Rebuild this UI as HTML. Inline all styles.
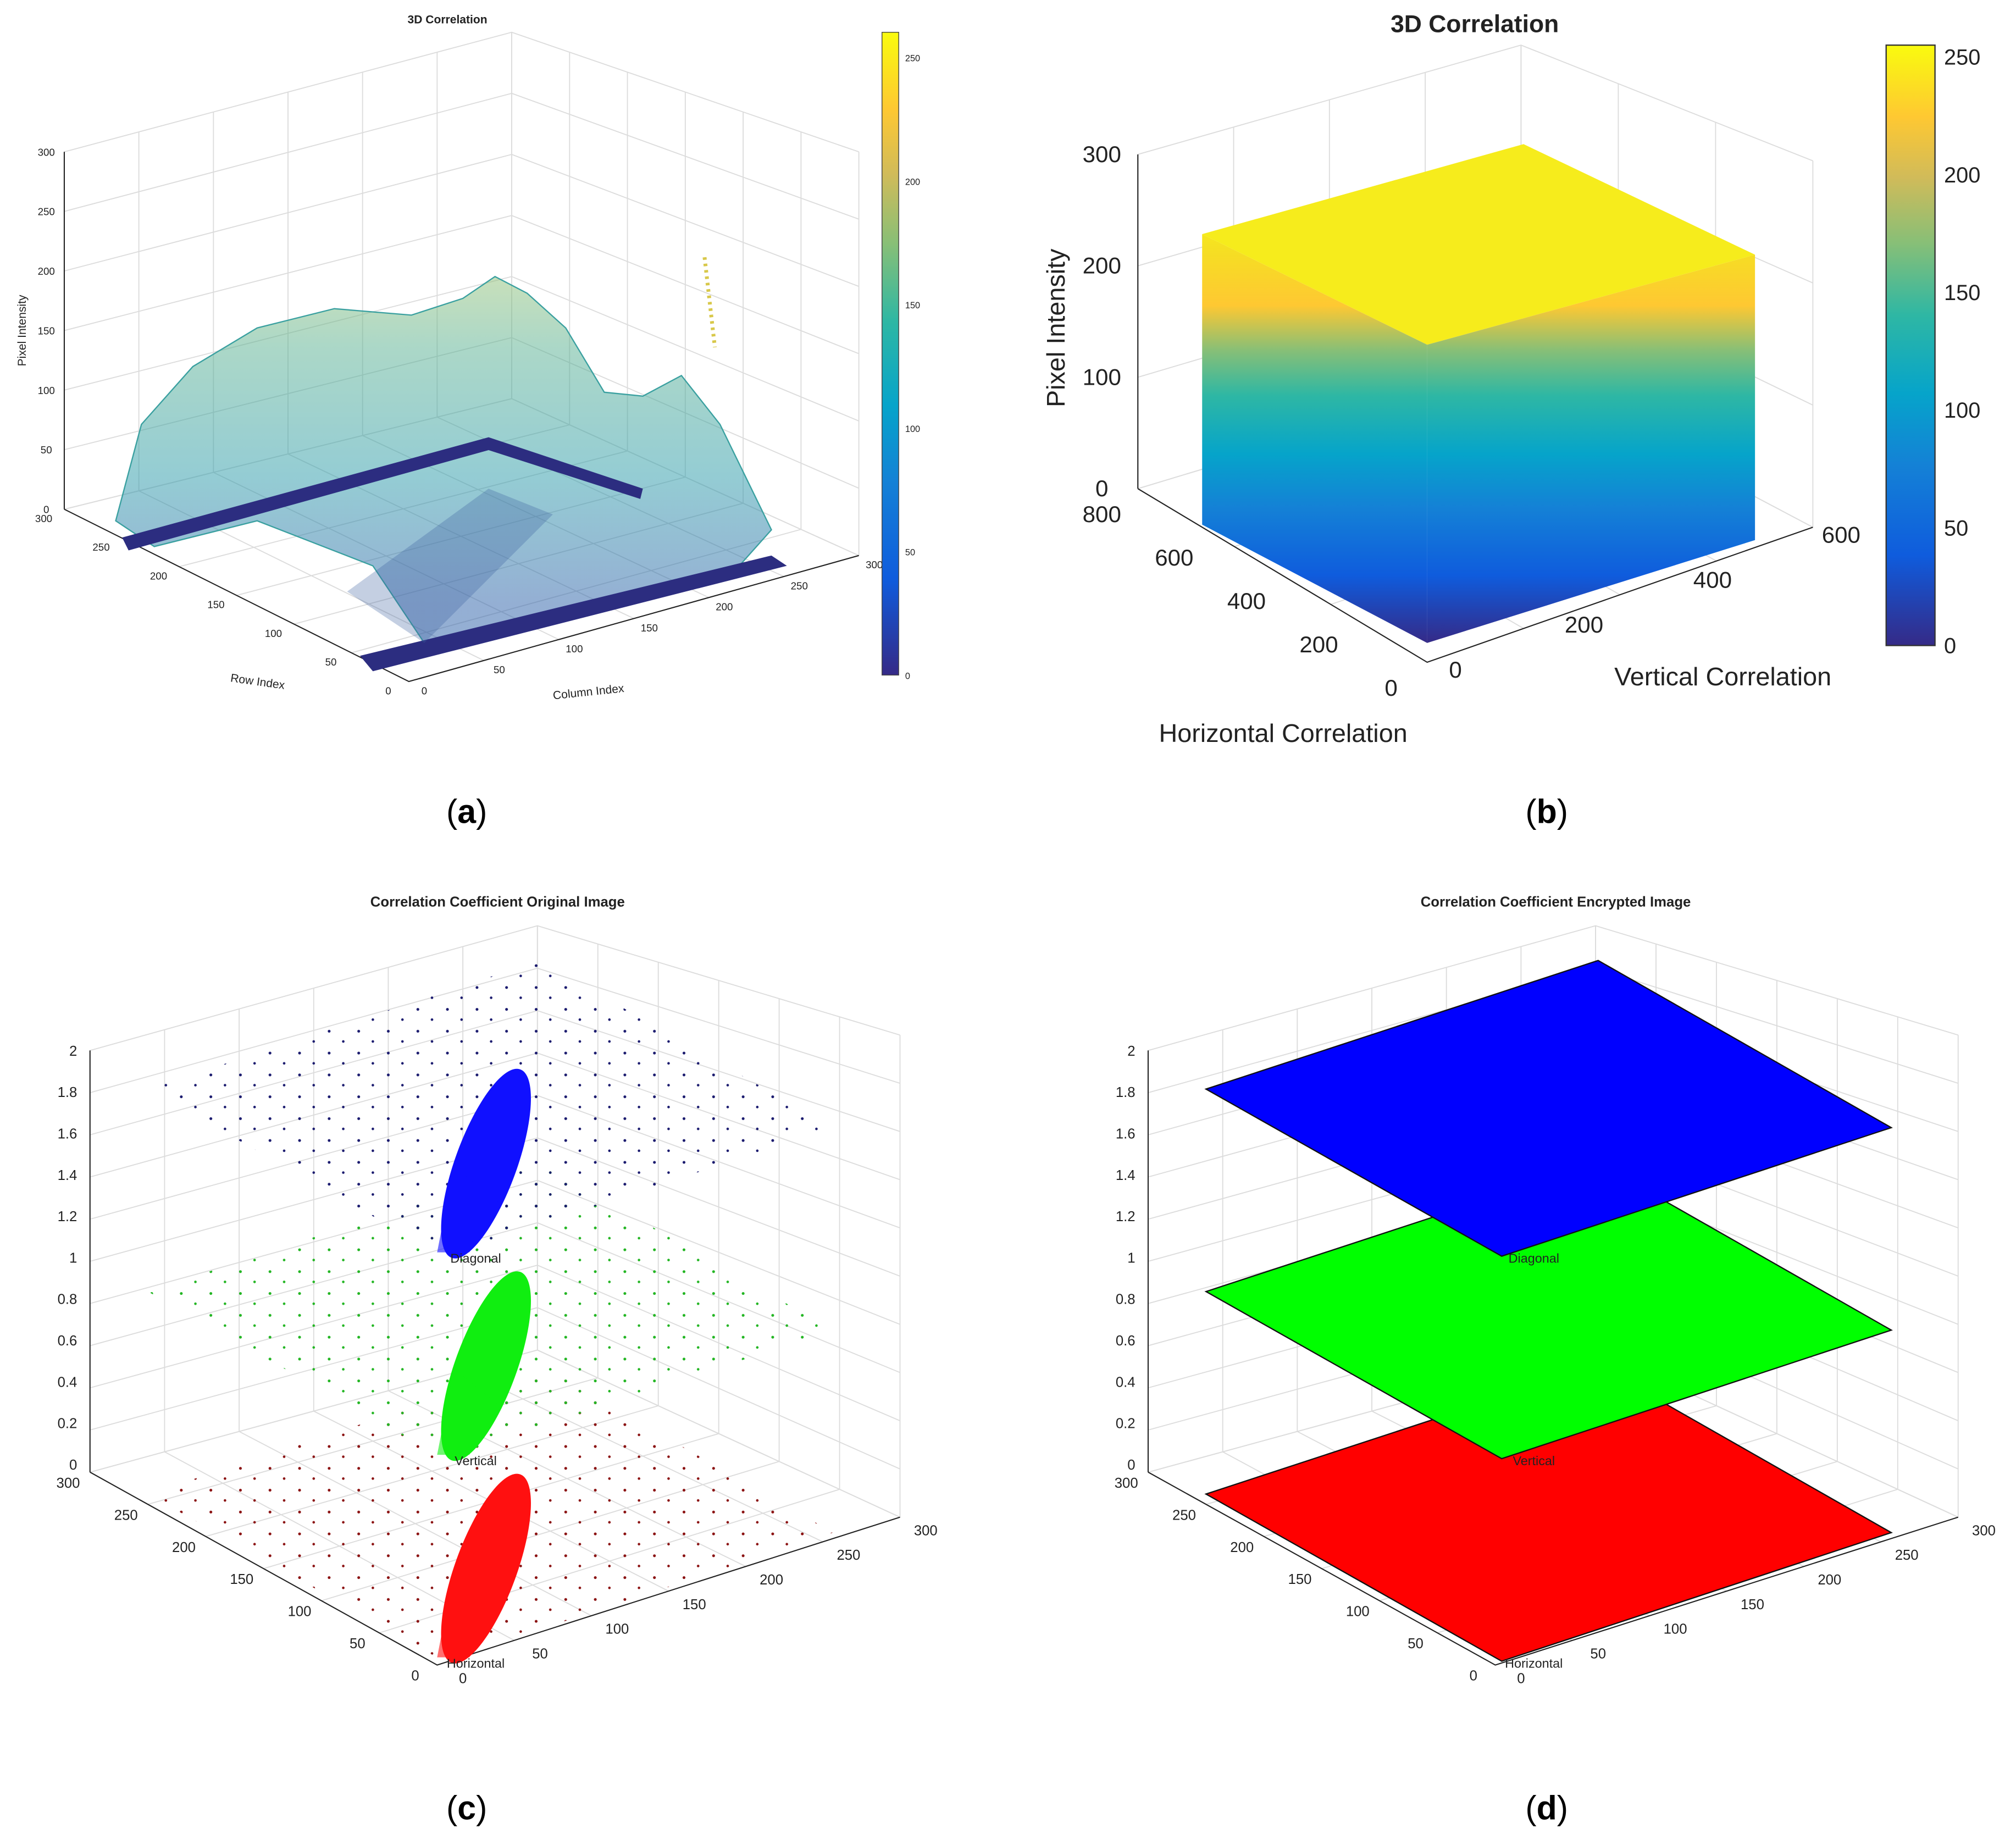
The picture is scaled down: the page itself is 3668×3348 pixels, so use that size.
<!DOCTYPE html>
<html><head><meta charset="utf-8"><style>
html,body{margin:0;padding:0;background:#fff}
svg{display:block}
text{font-family:"Liberation Sans",sans-serif}
</style></head><body>
<svg id="fig" xmlns="http://www.w3.org/2000/svg" width="3668" height="3348" viewBox="0 0 1568 1431">
<defs>
<linearGradient id="parula" x1="0" y1="1" x2="0" y2="0">
<stop offset="0" stop-color="#352a87"/><stop offset="0.15" stop-color="#0f5cdd"/><stop offset="0.3" stop-color="#1481d6"/>
<stop offset="0.42" stop-color="#06a4ca"/><stop offset="0.55" stop-color="#2eb7a4"/><stop offset="0.67" stop-color="#87bf77"/>
<stop offset="0.78" stop-color="#d1bb59"/><stop offset="0.88" stop-color="#fec832"/><stop offset="1" stop-color="#f9fb0e"/>
</linearGradient>
<linearGradient id="cube" gradientUnits="userSpaceOnUse" x1="0" y1="500" x2="0" y2="150">
<stop offset="0" stop-color="#352a87"/><stop offset="0.15" stop-color="#0f5cdd"/><stop offset="0.3" stop-color="#1481d6"/>
<stop offset="0.42" stop-color="#06a4ca"/><stop offset="0.55" stop-color="#2eb7a4"/><stop offset="0.65" stop-color="#87bf77"/>
<stop offset="0.75" stop-color="#fec832"/><stop offset="0.88" stop-color="#f5e022"/><stop offset="1" stop-color="#f9fb0e"/>
</linearGradient>
<linearGradient id="mound" gradientUnits="userSpaceOnUse" x1="0" y1="470" x2="0" y2="220">
<stop offset="0" stop-color="#2a5fa8"/><stop offset="0.4" stop-color="#2a9aa8"/><stop offset="0.8" stop-color="#58b090"/><stop offset="1" stop-color="#8cbf78"/>
</linearGradient>
<pattern id="dotsB" width="23" height="17" patternUnits="userSpaceOnUse"><circle cx="3" cy="3" r="1.1" fill="#1a1a6e"/><circle cx="14" cy="11" r="1" fill="#1a1a6e"/></pattern>
<pattern id="dotsG" width="23" height="17" patternUnits="userSpaceOnUse"><circle cx="3" cy="3" r="1.1" fill="#22b522"/><circle cx="14" cy="11" r="1" fill="#22b522"/></pattern>
<pattern id="dotsR" width="23" height="17" patternUnits="userSpaceOnUse"><circle cx="3" cy="3" r="1.1" fill="#8a1010"/><circle cx="14" cy="11" r="1" fill="#8a1010"/></pattern>
</defs>
<g id="root"></g>
</svg>
<script>
// ---- data ----
const aZTicks=[0,50,100,150,200,250,300];
const aRowTicks=[0,50,100,150,200,250,300];
const aColTicks=[0,50,100,150,200,250,300];
const aCbTicks=[0,50,100,150,200,250];
const bZTicks=[0,100,200,300];
const bHTicks=[0,200,400,600,800];
const bVTicks=[0,200,400,600];
const bCbTicks=[0,50,100,150,200,250];
const cZTicks=[0,0.2,0.4,0.6,0.8,1,1.2,1.4,1.6,1.8,2];
const cXYTicks=[0,50,100,150,200,250,300];
const planeZ=[0,1,2];
const planeNames=["Horizontal","Vertical","Diagonal"];

const NS="http://www.w3.org/2000/svg";
const root=document.getElementById('root');
function el(tag,attrs,parent,txt){const e=document.createElementNS(NS,tag);for(const k in attrs)e.setAttribute(k,attrs[k]);if(txt!==undefined)e.textContent=txt;(parent||root).appendChild(e);return e;}
function lerp(a,b,t){return [a[0]+(b[0]-a[0])*t,a[1]+(b[1]-a[1])*t];}
function pts(a){return a.map(p=>p[0]+','+p[1]).join(' ');}

function box(g,c,nx,ny,nz){
  const {LT,BT,RT,L,B,R,F}=c;
  const st={stroke:'#dcdcdc','stroke-width':0.8};
  for(let i=0;i<=nx;i++){const t=i/nx;const a=lerp(L,B,t),b=lerp(LT,BT,t),f=lerp(F,R,t);
    el('line',Object.assign({x1:a[0],y1:a[1],x2:b[0],y2:b[1]},st),g);el('line',Object.assign({x1:a[0],y1:a[1],x2:f[0],y2:f[1]},st),g);}
  for(let i=0;i<=ny;i++){const t=i/ny;const a=lerp(B,R,t),b=lerp(BT,RT,t),f=lerp(L,F,t);
    el('line',Object.assign({x1:a[0],y1:a[1],x2:b[0],y2:b[1]},st),g);el('line',Object.assign({x1:a[0],y1:a[1],x2:f[0],y2:f[1]},st),g);}
  for(let i=0;i<=nz;i++){const t=i/nz;const a=lerp(L,LT,t),b=lerp(B,BT,t),r=lerp(R,RT,t);
    el('polyline',Object.assign({points:pts([a,b,r]),fill:'none'},st),g);}
  const ax={stroke:'#222','stroke-width':0.9};
  el('line',Object.assign({x1:L[0],y1:L[1],x2:LT[0],y2:LT[1]},ax),g);
  el('polyline',Object.assign({points:pts([L,F,R]),fill:'none'},ax),g);
}
function txt(g,x,y,s,size,opt){opt=opt||{};const t=el('text',Object.assign({x:x,y:y,'font-size':size,fill:'#222','text-anchor':opt.anchor||'middle'},opt.attrs||{}),g,s);return t;}

// ===== Panel a =====
const ga=el('g',{});
const ca={LT:[50,118],BT:[398,25],RT:[668,118],L:[50,396],B:[398,310],R:[668,432],F:[318,530]};
box(ga,ca,6,6,6);
txt(ga,348,18,'3D Correlation',9,{attrs:{'font-weight':'bold'}});
aZTicks.forEach((v,i)=>{const p=lerp(ca.L,ca.LT,v/300);const t=txt(ga,p[0]-14,p[1]+3,String(v),8);});
aRowTicks.forEach(v=>{const p=lerp(ca.F,ca.L,v/300);txt(ga,p[0]-16,p[1]+10,String(v),8);});
aColTicks.forEach(v=>{const p=lerp(ca.F,ca.R,v/300);txt(ga,p[0]+12,p[1]+10,String(v),8);});
txt(ga,20,257,'Pixel Intensity',9,{attrs:{transform:'rotate(-90 20 257)'}});
txt(ga,200,533,'Row Index',9,{attrs:{transform:'rotate(8 200 533)'}});
txt(ga,458,541,'Column Index',9,{attrs:{transform:'rotate(-6 458 541)'}});
const m=el('polygon',{points:'90,405 110,330 150,285 200,255 260,240 320,245 360,232 385,215 410,228 440,255 470,305 500,308 530,292 560,330 600,412 575,440 470,470 330,500 290,440 200,405 120,425',fill:'url(#mound)','fill-opacity':0.5,stroke:'#3aa0a0','stroke-width':1},ga);

el('polygon',{points:'95,418 380,340 500,380 498,388 380,350 100,428',fill:'#2c2d80'},ga);
el('polygon',{points:'280,510 600,432 612,440 290,522',fill:'#2c2d80'},ga);
el('polygon',{points:'270,460 380,380 430,400 330,500',fill:'#3a5fa0','fill-opacity':0.3},ga);
el('line',{x1:548,y1:200,x2:556,y2:270,stroke:'#d8c84a','stroke-width':3,'stroke-dasharray':'2 3'},ga);
const cba=el('rect',{x:686,y:25,width:13,height:500,fill:'url(#parula)',stroke:'#444','stroke-width':0.6},ga);

aCbTicks.forEach(v=>{const y=525-v/255*490;txt(ga,704,y+3,String(v),7,{anchor:'start'});});

// ===== Panel b =====
const gb=el('g',{});
const cb={LT:[885,120],BT:[1183,35],RT:[1410,125],L:[885,380],B:[1183,290],R:[1410,410],F:[1110,515]};
box(gb,cb,4,3,3);
txt(gb,1147,25,'3D Correlation',19,{attrs:{'font-weight':'bold'}});
bZTicks.forEach(v=>{const p=lerp(cb.L,cb.LT,v/300);txt(gb,p[0]-28,p[1]+6,String(v),18);});
bHTicks.forEach(v=>{const p=lerp(cb.F,cb.L,v/800);txt(gb,p[0]-28,p[1]+26,String(v),18);});
bVTicks.forEach(v=>{const p=lerp(cb.F,cb.R,v/600);txt(gb,p[0]+22,p[1]+12,String(v),18);});
txt(gb,828,255,'Pixel Intensity',20,{attrs:{transform:'rotate(-90 828 255)'}});
txt(gb,1340,533,'Vertical Correlation',20);
txt(gb,998,577,'Horizontal Correlation',20);
const cubeL=el('polygon',{points:'935,182 1110,268 1110,500 935,408',fill:'url(#cube)'},gb);

el('polygon',{points:'1110,268 1365,198 1365,420 1110,500',fill:'url(#cube)'},gb);
el('polygon',{points:'935,182 1185,112 1365,198 1110,268',fill:'#f6ec1c'},gb);
el('rect',{x:1467,y:35,width:38,height:467,fill:'url(#parula)',stroke:'#333','stroke-width':1},gb);
bCbTicks.forEach(v=>{const y=502-v/255*467;txt(gb,1512,y+6,String(v),17,{anchor:'start'});});

// ===== Panel c / d =====
function corrPanel(dx,title,dense,name){
  const g=el('g',{});
  const c={LT:[70+dx,817],BT:[418+dx,720],RT:[700+dx,805],L:[70+dx,1145],B:[418+dx,1050],R:[700+dx,1180],F:[340+dx,1295]};
  box(g,c,6,6,10);
  txt(g,387+dx,705,title,11,{attrs:{'font-weight':'bold'}});
  cZTicks.forEach(v=>{const y=1139-v/2*322;txt(g,c.L[0]-10,y+4,String(v),11,{anchor:'end'});});
  cXYTicks.forEach(v=>{const p=lerp(c.F,c.L,v/300);txt(g,p[0]-17,p[1]+12,String(v),11);});
  cXYTicks.forEach(v=>{const p=lerp(c.F,c.R,v/300);txt(g,p[0]+20,p[1]+14,String(v),11);});
  const base=[[115+dx,1162],[420+dx,1062],[648+dx,1192],[345+dx,1292]];
  const zs=157.5;
  const fills=dense?['#ff0000','#00ff00','#0000ff']:['url(#dotsR)','url(#dotsG)','url(#dotsB)'];
  const cloud=['#ff1010','#10ee10','#1010ff'];
  planeZ.forEach((z,i)=>{
    const p=base.map(q=>[q[0],q[1]-z*zs]);
    const poly=el('polygon',{points:pts(p),fill:fills[i],stroke:dense?'#111':'none','stroke-width':dense?1:0},g);
    
    
    if(!dense){
      const f=p[3];
      const cx=f[0]+33,cy=f[1]-72;
      const e=el('ellipse',{cx:cx,cy:cy,rx:24,ry:78,fill:cloud[i],transform:'rotate(20 '+cx+' '+cy+')'},g);
      
      
      el('polygon',{points:pts([[f[0]-5,f[1]-3],[f[0]+8,f[1]-70],[f[0]+45,f[1]-40],[f[0]+20,f[1]-3]]),fill:cloud[i],'fill-opacity':0.6},g);
    }
    txt(g,p[3][0]+25,p[3][1]+5,planeNames[i],10);
  });
  return g;
}
corrPanel(0,'Correlation Coefficient Original Image',false,'panel-c-original');
corrPanel(823,'Correlation Coefficient Encrypted Image',true,'panel-d-encrypted');

// captions
[['a',363,640],['b',1203,640],['c',363,1415],['d',1203,1415]].forEach(c=>{
  const t=el('text',{x:c[1],y:c[2],'font-size':26,'text-anchor':'middle','font-family':'Liberation Serif, serif',fill:'#000'});
  
  el('tspan',{},t,'(');el('tspan',{'font-weight':'bold'},t,c[0]);el('tspan',{},t,')');
});
</script>
</body></html>
